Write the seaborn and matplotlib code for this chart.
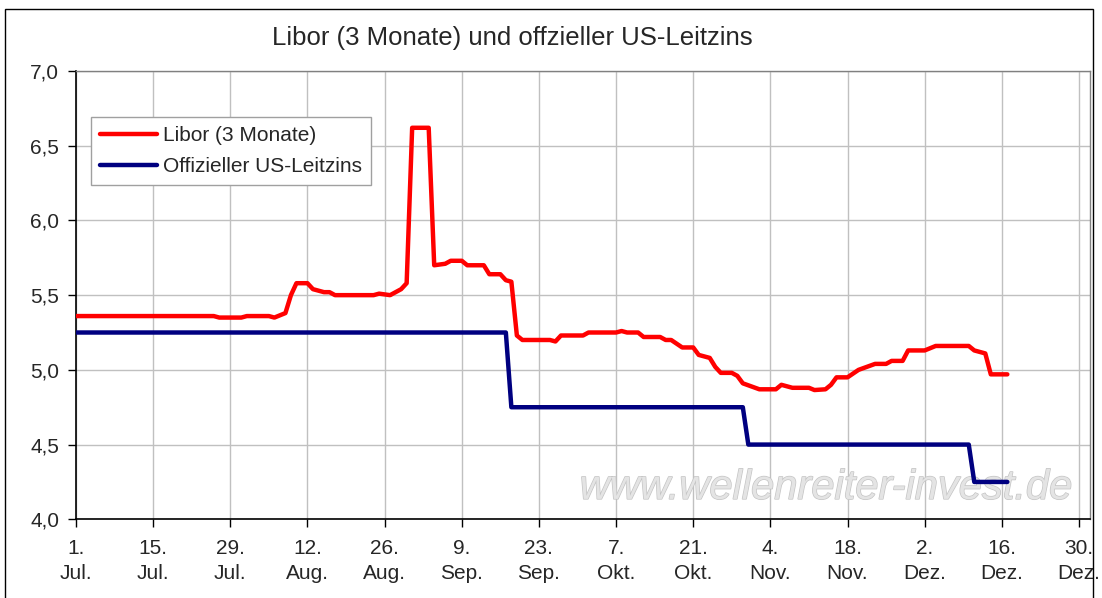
import pandas as pd
import numpy as np
import seaborn as sns
import matplotlib.pyplot as plt
import matplotlib.patheffects as pe
from matplotlib.patches import Rectangle

# Libor (3 Monate)
libor_dates = ['2007-07-01', '2007-07-26', '2007-07-27', '2007-07-31', '2007-08-01', '2007-08-05',
               '2007-08-06', '2007-08-08', '2007-08-09', '2007-08-10', '2007-08-12', '2007-08-13',
               '2007-08-15', '2007-08-16', '2007-08-17', '2007-08-24', '2007-08-25', '2007-08-27',
               '2007-08-29', '2007-08-30', '2007-08-31', '2007-09-03', '2007-09-04', '2007-09-06',
               '2007-09-07', '2007-09-09', '2007-09-10', '2007-09-12', '2007-09-13', '2007-09-14',
               '2007-09-16', '2007-09-17', '2007-09-18', '2007-09-19', '2007-09-20', '2007-09-25',
               '2007-09-26', '2007-09-27', '2007-10-01', '2007-10-02', '2007-10-07', '2007-10-08',
               '2007-10-09', '2007-10-11', '2007-10-12', '2007-10-15', '2007-10-16', '2007-10-17',
               '2007-10-19', '2007-10-21', '2007-10-22', '2007-10-24', '2007-10-25', '2007-10-26',
               '2007-10-28', '2007-10-29', '2007-10-30', '2007-11-02', '2007-11-05', '2007-11-06',
               '2007-11-08', '2007-11-11', '2007-11-12', '2007-11-14', '2007-11-15', '2007-11-16',
               '2007-11-18', '2007-11-20', '2007-11-23', '2007-11-25', '2007-11-26', '2007-11-28',
               '2007-11-29', '2007-12-02', '2007-12-04', '2007-12-10', '2007-12-11', '2007-12-13',
               '2007-12-14', '2007-12-17']
libor_values = [5.36, 5.36, 5.35, 5.35, 5.36, 5.36,
                5.35, 5.38, 5.50, 5.58, 5.58, 5.54,
                5.52, 5.52, 5.50, 5.50, 5.51, 5.50,
                5.54, 5.58, 6.62, 6.62, 5.70, 5.71,
                5.73, 5.73, 5.70, 5.70, 5.70, 5.64,
                5.64, 5.60, 5.59, 5.23, 5.20, 5.20,
                5.19, 5.23, 5.23, 5.25, 5.25, 5.26,
                5.25, 5.25, 5.22, 5.22, 5.20, 5.20,
                5.15, 5.15, 5.10, 5.08, 5.02, 4.98,
                4.98, 4.96, 4.91, 4.87, 4.87, 4.90,
                4.88, 4.88, 4.865, 4.87, 4.90, 4.95,
                4.95, 5.00, 5.04, 5.04, 5.06, 5.06,
                5.13, 5.13, 5.16, 5.16, 5.13, 5.11,
                4.97, 4.97]

# Offizieller US-Leitzins
fed_dates = ['2007-07-01', '2007-09-17', '2007-09-18', '2007-10-30', '2007-10-31',
             '2007-12-10', '2007-12-11', '2007-12-17']
fed_values = [5.25, 5.25, 4.75, 4.75, 4.50, 4.50, 4.25, 4.25]

tick_dates = ['2007-07-01', '2007-07-15', '2007-07-29', '2007-08-12', '2007-08-26', '2007-09-09',
              '2007-09-23', '2007-10-07', '2007-10-21', '2007-11-04', '2007-11-18', '2007-12-02',
              '2007-12-16', '2007-12-30']
tick_labels = ['1.\nJul.', '15.\nJul.', '29.\nJul.', '12.\nAug.', '26.\nAug.', '9.\nSep.',
               '23.\nSep.', '7.\nOkt.', '21.\nOkt.', '4.\nNov.', '18.\nNov.', '2.\nDez.',
               '16.\nDez.', '30.\nDez.']
y_ticks = [4.0, 4.5, 5.0, 5.5, 6.0, 6.5, 7.0]

libor = pd.DataFrame({'Datum': pd.to_datetime(libor_dates), 'Zins': libor_values})
fed = pd.DataFrame({'Datum': pd.to_datetime(fed_dates), 'Zins': fed_values})

sns.set_theme(style='white')
plt.rcParams['font.family'] = ['Liberation Sans', 'DejaVu Sans']

fig = plt.figure(figsize=(11.02, 5.98), dpi=100)
ax = fig.add_axes([76 / 1102, 1 - 519.3 / 598, (1090 - 76) / 1102, (519.3 - 71) / 598])

# watermark below the lines
ax.text(0.982, 0.07, 'www.wellenreiter-invest.de', transform=ax.transAxes, fontsize=30,
        style='italic', ha='right', va='center', color='#E4E4E4', zorder=1,
        path_effects=[pe.withStroke(linewidth=1.0, foreground='#C4C4C4')])

sns.lineplot(data=libor, x='Datum', y='Zins', color='#FF0000', linewidth=3.2,
             label='Libor (3 Monate)', ax=ax, zorder=3)
sns.lineplot(data=fed, x='Datum', y='Zins', color='#000080', linewidth=3.2,
             label='Offizieller US-Leitzins', ax=ax, zorder=3)

ax.set_xlim(pd.Timestamp('2007-07-01'), pd.Timestamp('2008-01-01'))
ax.set_ylim(4, 7)
ax.set_xticks(pd.to_datetime(tick_dates))
ax.set_xticklabels(tick_labels, fontsize=15, linespacing=1.45)
ax.set_yticks(y_ticks)
ax.set_yticklabels([f'{v:.1f}'.replace('.', ',') for v in y_ticks], fontsize=15)
ax.set_xlabel('')
ax.set_ylabel('')
ax.grid(True, color='#C0C0C0', linewidth=1)
ax.set_axisbelow(True)
ax.tick_params(axis='both', direction='out', length=6, width=1, color='black', bottom=True, left=True, pad=6)
ax.tick_params(axis='x', pad=8)
for s in ['left', 'bottom']:
    ax.spines[s].set_color('black')
    ax.spines[s].set_linewidth(1.2)
for s in ['top', 'right']:
    ax.spines[s].set_color('#808080')
    ax.spines[s].set_linewidth(1)

leg = ax.legend(loc='upper left', bbox_to_anchor=(91 / 1102, 1 - 117 / 598), bbox_transform=fig.transFigure,
                fontsize=15, frameon=True, fancybox=False, framealpha=1, edgecolor='#A0A0A0',
                handlelength=2.7, handletextpad=0.3, borderpad=0.45, labelspacing=0.55, borderaxespad=0)
leg.get_frame().set_linewidth(1)
leg.set_zorder(5)

fig.text(512 / 1102, 1 - 38 / 598, 'Libor (3 Monate) und offzieller US-Leitzins', fontsize=18.5,
         ha='center', va='center')

fig.patches.append(Rectangle((5 / 1102, -0.02), (1093 - 5) / 1102, (598 - 9) / 598 + 0.02,
                             transform=fig.transFigure, fill=False, edgecolor='black', linewidth=1))

fig.savefig('out.png', dpi=100)
